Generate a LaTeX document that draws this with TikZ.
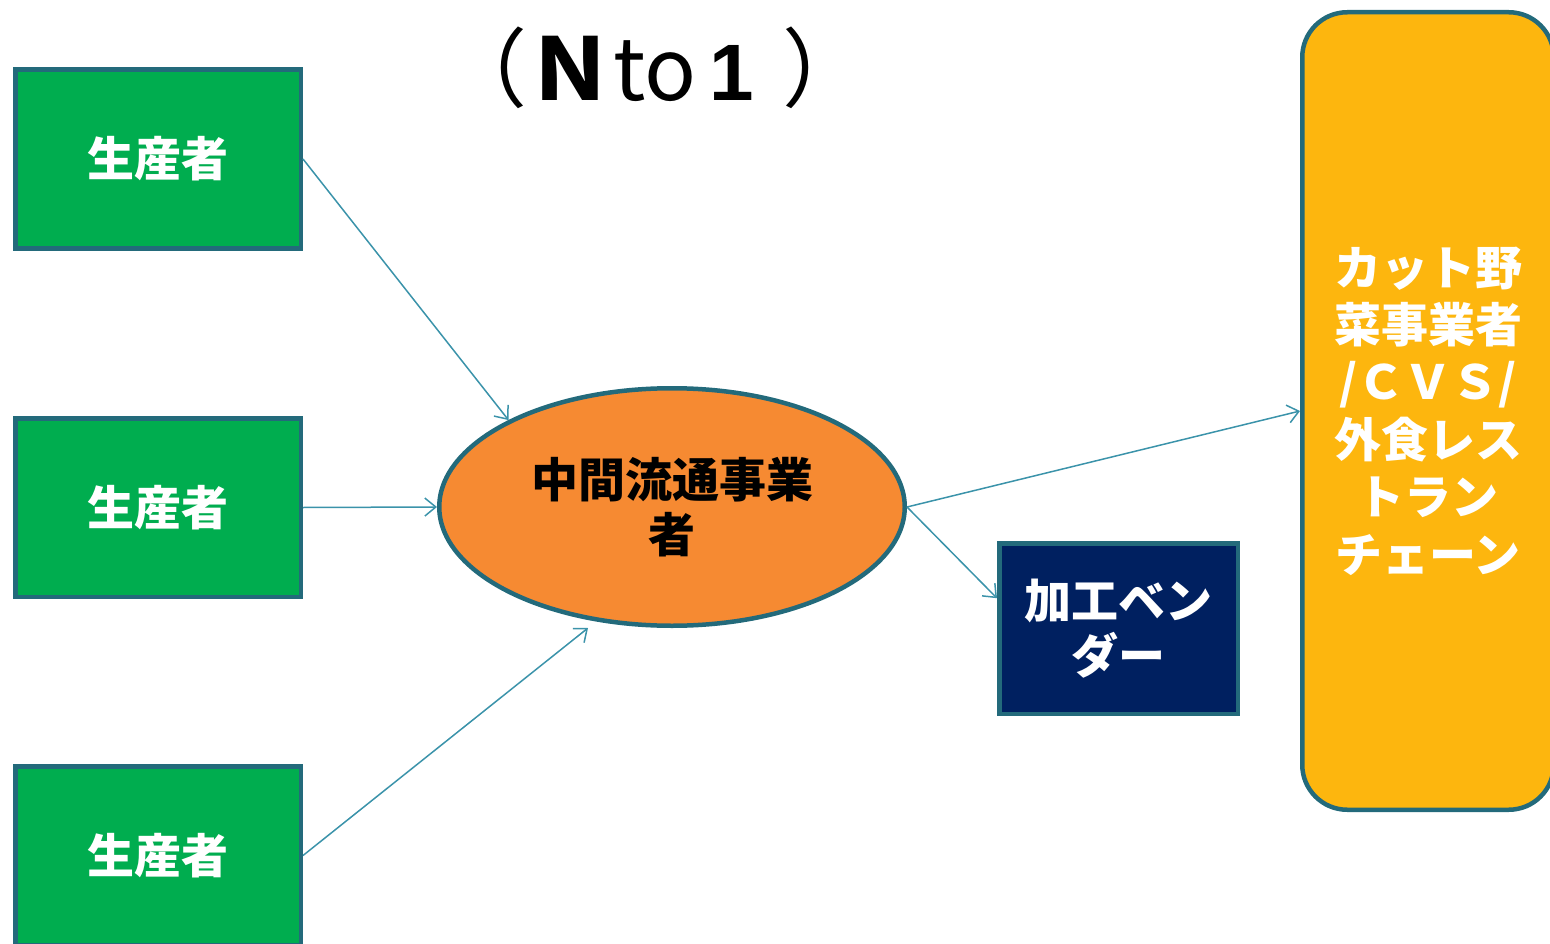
\documentclass[tikz,border=0pt]{standalone}
\usepackage{fontspec}
\usetikzlibrary{shapes.geometric,arrows.meta}
\newfontfamily\jp{Noto Sans CJK JP}
\newfontfamily\lib{Liberation Sans}
\definecolor{edge}{HTML}{236A7B}
\definecolor{arrowc}{HTML}{3B93AA}
\definecolor{prodgreen}{HTML}{00AD4F}
\definecolor{midorange}{HTML}{F68A32}
\definecolor{vendnavy}{HTML}{002060}
\definecolor{chainyellow}{HTML}{FDB60E}
\tikzset{
  jtext/.style={font=\jp\bfseries\fontsize{47}{55}\selectfont},
  prod/.style={jtext, draw=edge, line width=4.5pt, fill=prodgreen, text=white,
    minimum width=285.5pt, minimum height=178.5pt, inner sep=0pt},
  conn/.style={draw=arrowc, line width=1.5pt, -{Straight Barb[length=11pt,width=18pt]}},
}
\begin{document}
\begin{tikzpicture}[x=1pt,y=-1pt]
\useasboundingbox (0,0) rectangle (1550,944);
\node[prod] (p1) at (158,159) {生産者};
\node[prod] (p2) at (158,507.5) {生産者};
\node[prod] (p3) at (158,855.5) {生産者};
\node[jtext, ellipse, draw=edge, line width=4.5pt, fill=midorange, text=black,
  minimum width=465.5pt, minimum height=237.5pt, inner sep=0pt, align=center]
  (m) at (672,507) {中間流通事業\\者};
\node[jtext, rectangle, draw=edge, line width=4.5pt, fill=vendnavy, text=white,
  minimum width=238.5pt, minimum height=170.5pt, inner sep=0pt, align=center]
  (v) at (1118.5,628.5) {加工ベン\\ダー};
\node[font=\jp\bfseries\fontsize{47}{57.4}\selectfont, rectangle, rounded corners=45pt,
  draw=edge, line width=4.5pt, fill=chainyellow, text=white,
  minimum width=251.5pt, minimum height=797.5pt, inner sep=0pt, align=center]
  (c) at (1428,411) {カット野\\菜事業者\\/ＣＶＳ/\\外食レス\\トラン\\チェーン};
\node[font=\jp\fontsize{86}{86}\selectfont, inner sep=0pt] (t) at (655,68)
  {（\textbf{Ｎ}to\makebox[86pt]{\lib\bfseries\fontsize{80}{80}\selectfont 1\hspace{16pt}}）};
\coordinate (mb) at (588,628);
\draw[conn] (p1.east) -- (m.152);
\draw[conn] (p2.east) -- (m.west);
\draw[conn] (p3.east) -- (mb);
\draw[conn] (m.east) -- (c.west);
\draw[conn] (m.east) -- (v.166);
\end{tikzpicture}
\end{document}
